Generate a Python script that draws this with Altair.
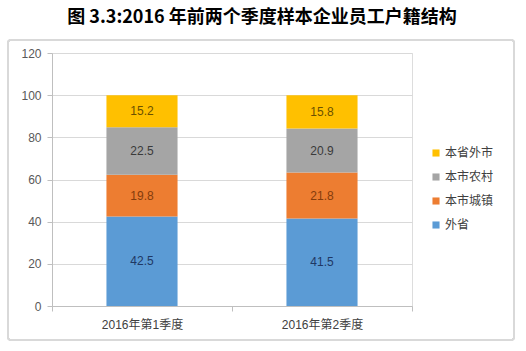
import altair as alt
import pandas as pd

quarters = ["2016年第1季度", "2016年第2季度"]
series = ["外省", "本市城镇", "本市农村", "本省外市"]
values = {
    "外省": [42.5, 41.5],
    "本市城镇": [19.8, 21.8],
    "本市农村": [22.5, 20.9],
    "本省外市": [15.2, 15.8],
}
colors = {"外省": "#5b9bd5", "本市城镇": "#ed7d31", "本市农村": "#a5a5a5", "本省外市": "#ffc000"}
label_colors = {"外省": "#1f3864", "本市城镇": "#843c0c", "本市农村": "#3a3a3a", "本省外市": "#6b5000"}
legend_order = ["本省外市", "本市农村", "本市城镇", "外省"]

rows = []
for i, s in enumerate(series):
    for j, q in enumerate(quarters):
        rows.append({"quarter": q, "series": s, "value": values[s][j], "order": i})
df = pd.DataFrame(rows)

FONT = "Liberation Sans, Noto Sans CJK SC"

base = alt.Chart(df).transform_stack(
    stack="value", groupby=["quarter"], as_=["y0", "y1"],
    sort=[alt.SortField("order", order="ascending")]
).transform_calculate(mid="(datum.y0 + datum.y1) / 2")

x_enc = alt.X("quarter:N", sort=quarters, title=None,
              scale=alt.Scale(paddingInner=0, paddingOuter=0),
              axis=alt.Axis(labelAngle=0, tickBand="extent", labelFont=FONT,
                            labelFontSize=12, labelColor="#404040", labelPadding=8,
                            domainColor="#bfbfbf", tickColor="#bfbfbf", tickSize=5,
                            grid=False))

bars = base.mark_bar(width=alt.RelativeBandSize(0.395)).encode(
    x=x_enc,
    y=alt.Y("y0:Q", title=None, scale=alt.Scale(domain=[0, 120], nice=False),
            axis=alt.Axis(values=[0, 20, 40, 60, 80, 100, 120], labelFont=FONT,
                          labelFontSize=12, labelColor="#595959", labelPadding=6,
                          domainColor="#bfbfbf", tickColor="#bfbfbf", tickSize=5,
                          gridColor="#d9d9d9")),
    y2="y1:Q",
    color=alt.Color("series:N",
                    scale=alt.Scale(domain=legend_order,
                                    range=[colors[s] for s in legend_order]),
                    legend=alt.Legend(title=None, orient="none", legendX=378, legendY=94,
                                      symbolType="square", symbolSize=50,
                                      symbolStrokeWidth=0, labelFont=FONT,
                                      labelFontSize=12, labelColor="#404040",
                                      rowPadding=12, labelOffset=3)),
)

labels = base.mark_text(font=FONT, fontSize=12).encode(
    x=alt.X("quarter:N", sort=quarters),
    y="mid:Q",
    text=alt.Text("value:Q", format=".1f"),
    color=alt.Color("series:N",
                    scale=alt.Scale(domain=legend_order,
                                    range=[label_colors[s] for s in legend_order]),
                    legend=None),
)

frame = alt.Chart(df).mark_rect(fill=None, stroke="#d9d9d9", strokeWidth=1.5,
                                cornerRadius=3).encode(
    x=alt.value(-44), x2=alt.value(462), y=alt.value(-13), y2=alt.value(287)
)

chart = alt.layer(frame, bars, labels).resolve_scale(color="independent").properties(
    width=360, height=253,
    padding={"left": 52, "top": 53, "right": 114, "bottom": 45},
    autosize=alt.AutoSizeParams(type="none"),
    title=alt.TitleParams("图 3.3:2016 年前两个季度样本企业员工户籍结构",
                          font="Noto Sans CJK SC", fontSize=18, fontWeight="bold",
                          color="#000000", anchor="middle", dx=30, offset=12),
).configure_view(stroke=None).configure(background="white")

chart.save("out.html", embed_options={"renderer": "svg", "actions": False})
